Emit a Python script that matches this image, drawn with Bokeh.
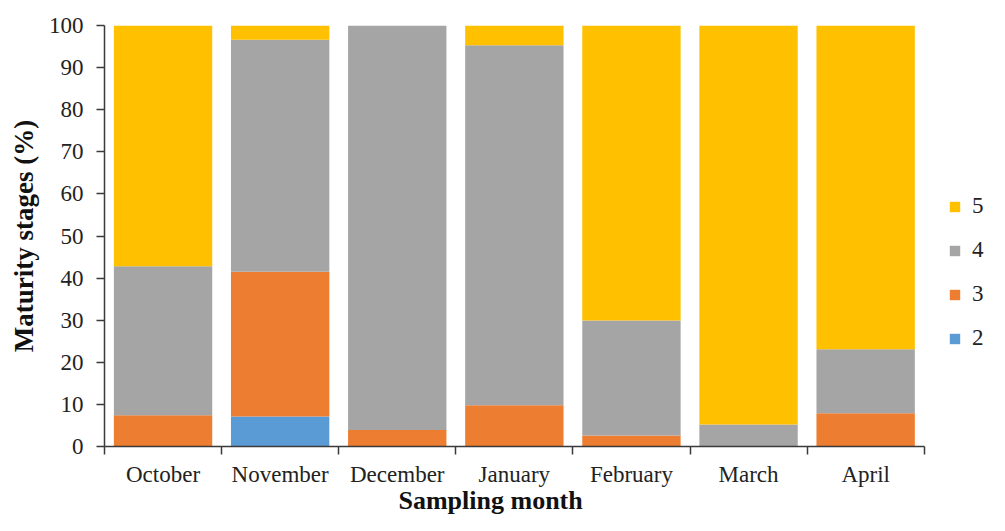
from bokeh.plotting import figure
from bokeh.models import ColumnDataSource, FixedTicker, Legend, LegendItem, Title
from bokeh.embed import file_html
from bokeh.resources import INLINE

months = ["October", "November", "December", "January", "February", "March", "April"]
stage2 = [0.0, 7.1, 0.0, 0.0, 0.0, 0.0, 0.0]
stage3 = [7.4, 34.4, 3.9, 9.8, 2.6, 0.0, 7.9]
stage4 = [35.4, 55.1, 96.1, 85.5, 27.3, 5.2, 15.2]
stage5 = [57.2, 3.4, 0.0, 4.7, 70.1, 94.8, 76.9]
stage_names = ["2", "3", "4", "5"]
colors = ["#5B9BD5", "#ED7D31", "#A5A5A5", "#FFC000"]
y_ticks = [0, 10, 20, 30, 40, 50, 60, 70, 80, 90, 100]
x_title = "Sampling month"
y_title = "Maturity stages (%)"

FONT = "Liberation Serif"

W, H = 989, 515
LEFT, TOP, BOTTOM = 104, 25, 69
CAT_PX = 117.1  # pixel width of one month slot
n = len(months)
frame_w = W - LEFT
x_end = frame_w / CAT_PX  # frame extends right to leave room for the legend

xpos = [i + 0.5 for i in range(n)]
src = ColumnDataSource(dict(x=xpos, s2=stage2, s3=stage3, s4=stage4, s5=stage5))

p = figure(width=W, height=H, output_backend="svg", toolbar_location=None,
           x_range=(0, x_end), y_range=(0, 100),
           min_border_left=LEFT, min_border_right=0, min_border_top=TOP,
           min_border_bottom=BOTTOM)
p.outline_line_color = None
p.xgrid.visible = False
p.ygrid.visible = False

rs = p.vbar_stack(["s2", "s3", "s4", "s5"], x="x", width=0.84, color=colors,
                  line_color=None, source=src)

# axes
xa = p.xaxis[0]
xa.bounds = (0, n)
xa.ticker = FixedTicker(ticks=xpos, minor_ticks=list(range(n + 1)))
xa.major_label_overrides = {x: m for x, m in zip(xpos, months)}
xa.major_tick_out = 0
xa.major_tick_in = 0
xa.minor_tick_out = 8
xa.minor_tick_in = 0
xa.minor_tick_line_color = "#3a3a3a"
xa.minor_tick_line_width = 1.5
xa.axis_line_color = "#3a3a3a"
xa.axis_line_width = 1.5
xa.major_label_text_font = FONT
xa.major_label_text_font_size = "23px"
xa.major_label_text_color = "#222222"
xa.major_label_standoff = 7

# x-axis title, placed as in the reference (slightly left of the slots' centre)
t = Title(text=x_title, align="left", offset=294, standoff=-12,
          text_font=FONT, text_font_style="bold", text_font_size="26px",
          text_color="#111111")
p.add_layout(t, "below")

ya = p.yaxis[0]
ya.ticker = FixedTicker(ticks=y_ticks)
ya.major_tick_out = 8
ya.major_tick_in = 0
ya.minor_tick_out = 0
ya.minor_tick_in = 0
ya.major_tick_line_color = "#3a3a3a"
ya.major_tick_line_width = 1.5
ya.axis_line_color = "#3a3a3a"
ya.axis_line_width = 1.5
ya.major_label_text_font = FONT
ya.major_label_text_font_size = "23px"
ya.major_label_text_color = "#222222"
ya.major_label_standoff = 13
ya.axis_label = y_title
ya.axis_label_text_font = FONT
ya.axis_label_text_font_style = "bold"
ya.axis_label_text_font_size = "27px"
ya.axis_label_text_color = "#111111"
ya.axis_label_standoff = 7

items = [LegendItem(label=s, renderers=[r]) for s, r in zip(stage_names, rs)][::-1]
legend = Legend(items=items, location=(844, 95), padding=0, margin=0,
                border_line_color=None, background_fill_alpha=0,
                glyph_width=13, glyph_height=13, label_height=13,
                label_standoff=11, spacing=18,
                label_text_font=FONT, label_text_font_size="23px",
                label_text_color="#222222")
p.add_layout(legend, "center")

open("out.html", "w").write(file_html(p, INLINE))
